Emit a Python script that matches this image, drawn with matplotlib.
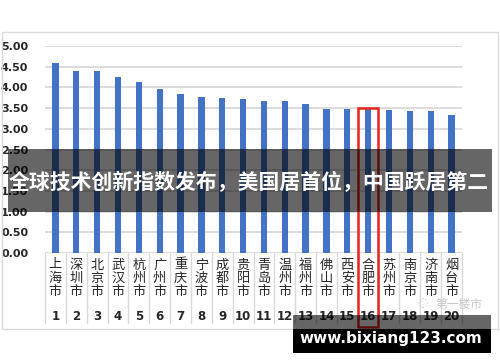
import matplotlib
matplotlib.use("Agg")
import matplotlib.pyplot as plt
import matplotlib.patches as patches
from matplotlib.transforms import blended_transform_factory

# --- data ---
cities = ["上海市", "深圳市", "北京市", "武汉市", "杭州市", "广州市", "重庆市", "宁波市", "成都市", "贵阳市",
          "青岛市", "温州市", "福州市", "佛山市", "西安市", "合肥市", "苏州市", "南京市", "济南市", "烟台市"]
values = [4.58, 4.40, 4.40, 4.24, 4.14, 3.95, 3.84, 3.78, 3.74, 3.71,
          3.68, 3.66, 3.60, 3.48, 3.48, 3.47, 3.45, 3.44, 3.42, 3.33]
ranks = [1, 2, 3, 4, 5, 6, 7, 8, 9, 10, 11, 12, 13, 14, 15, 16, 17, 18, 19, 20]
yticks = [0.0, 0.5, 1.0, 1.5, 2.0, 2.5, 3.0, 3.5, 4.0, 4.5, 5.0]
highlight = "合肥市"
banner = "全球技术创新指数发布，美国居首位，中国跃居第二"
site = "www.bixiang123.com"

W, H = 500, 362
CJK = ["Noto Sans CJK SC", "DejaVu Sans"]


def fx(x):
    return x / W


def fy(y):
    return 1 - y / H


fig = plt.figure(figsize=(W / 100, H / 100), dpi=100)
fig.patch.set_facecolor("white")

# chart frame
fig.patches.append(patches.Rectangle((fx(2), fy(329)), fx(496), 297 / H, transform=fig.transFigure,
                                     fill=False, edgecolor="#d9d9d9", linewidth=1))

ax = fig.add_axes([fx(45), fy(253), fx(417), 207 / H])
x = list(range(len(cities)))
ax.bar(x, values, width=0.3, color="#4472C4", zorder=3)
ax.set_xlim(-0.5, len(cities) - 0.5)
ax.set_ylim(0, 5)
ax.set_yticks(yticks)
ax.set_yticklabels([f"{v:.2f}" for v in yticks], fontsize=8, fontweight="bold", color="#262626")
ax.tick_params(axis="y", length=0, pad=12)
ax.set_xticks([])
ax.grid(axis="y", color="#d9d9d9", linewidth=1.3, zorder=0)
for s in ax.spines.values():
    s.set_visible(False)

# category table below the axis
tr = blended_transform_factory(ax.transData, fig.transFigure)
for i in range(len(cities) + 1):
    ax.plot([i - 0.5, i - 0.5], [fy(253), fy(323)], transform=tr, color="#d9d9d9",
            linewidth=1, clip_on=False)
for i, (c, r) in enumerate(zip(cities, ranks)):
    for j, ch in enumerate(c):
        ax.text(i, fy(265 + j * 13.5), ch, transform=tr, ha="center", va="center",
                fontsize=9.5, family=CJK, color="#262626")
    ax.text(i, fy(317), str(r), transform=tr, ha="center", va="center",
            fontsize=8.5, fontweight="bold", color="#262626")

# highlight box
k = cities.index(highlight)
ax.add_patch(patches.Rectangle((k - 0.48, fy(327)), 0.96, (327 - 108) / H, transform=tr,
                               fill=False, edgecolor="#e8231f", linewidth=1.8, clip_on=False, zorder=5))

# source watermark
fig.text(fx(459), fy(304), "第一楼市", family=CJK, fontsize=8.5, color="#c8c8c8", ha="center", va="center")
fig.text(fx(422), fy(303), "◌", fontsize=8.5, color="#c8c8c8", ha="center", va="center")

# overlay banner
fig.patches.append(patches.Rectangle((fx(8), fy(212)), fx(484), 63 / H, transform=fig.transFigure,
                                     facecolor="black", alpha=0.6, edgecolor="none", zorder=10))
fig.text(fx(249), fy(183), banner, family=CJK, fontsize=15, fontweight="bold", color="white",
         ha="center", va="center", zorder=11)

# site bar
fig.patches.append(patches.Rectangle((fx(293), fy(329)), fx(198), 14 / H, transform=fig.transFigure,
                                     facecolor="black", alpha=0.6, edgecolor="none", zorder=10))
fig.patches.append(patches.Rectangle((fx(293), fy(353)), fx(198), 24 / H, transform=fig.transFigure,
                                     facecolor="black", edgecolor="none", zorder=10))
fig.text(fx(391), fy(339), site, fontsize=11, fontweight="bold", color="white",
         ha="center", va="center", zorder=11)

fig.savefig("out.png", dpi=100)
